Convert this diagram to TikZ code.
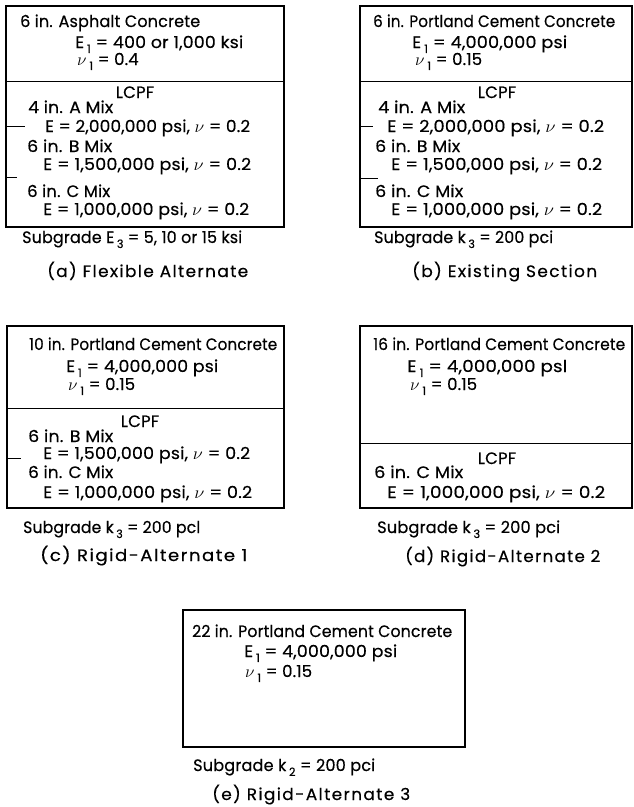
\documentclass[tikz,border=0pt]{standalone}
\usepackage{fontspec}
\usepackage{graphicx}
\setmainfont{Poppins}[LetterSpace=1,FakeBold=0.4]
\newfontfamily\capfont{Poppins}[LetterSpace=8,FakeBold=0.4]
\newcommand\sbs[1]{\,\raisebox{-0.55ex}{\fontsize{11.5}{13}\selectfont #1}}
\newcommand\nuch{$\nu$}
\newcommand\fw[2]{\resizebox{#1pt}{\height}{#2}}
\begin{document}
\begin{tikzpicture}[x=1pt,y=-1pt,
  txt/.style={anchor=base west,inner sep=0pt,font=\fontsize{16.5}{18}\selectfont},
  txtc/.style={anchor=base,inner sep=0pt,font=\fontsize{16.5}{18}\selectfont},
  captxt/.style={anchor=base west,inner sep=0pt,font=\capfont\fontsize{16.5}{18}\selectfont},
  boxline/.style={line width=1.3pt},
  divline/.style={line width=1pt}]
\useasboundingbox (0,0) rectangle (633,807);
% (a)
\draw[boxline] (6,6) rectangle (284,227);
\draw[divline] (6,81) -- (284,81);
\draw[divline] (6,126) -- (25,126);
\draw[divline] (6,177) -- (17,177);
\node[txt] (a1) at (20,27) {\fw{180}{6 in. Asphalt Concrete}};
\node[txt] (a2) at (75,48) {\fw{168}{E\sbs{1} = 400 or 1,000 ksi}};
\node[txt] (a3) at (77,65) {\nuch\sbs{1} = 0.4};
\node[txtc] (aL) at (135,98) {LCPF};
\node[txt] (a4) at (28,113) {\fw{85}{4 in. A Mix}};
\node[txt] (a5) at (45,132) {\fw{205}{E = 2,000,000 psi, \nuch{} = 0.2}};
\node[txt] (a6) at (27,152) {\fw{85}{6 in. B Mix}};
\node[txt] (a7) at (43,170) {\fw{208}{E = 1,500,000 psi, \nuch{} = 0.2}};
\node[txt] (a8) at (27,197) {\fw{83}{6 in. C Mix}};
\node[txt] (a9) at (43,215) {\fw{206}{E = 1,000,000 psi, \nuch{} = 0.2}};
\node[txt] (aS) at (22,243) {\fw{220}{Subgrade E\sbs{3} = 5, 10 or 15 ksi}};
\node[captxt] (aC) at (47,277) {\fw{201}{(a) Flexible Alternate}};
% (b)
\draw[boxline] (360,6) rectangle (632,227);
\draw[divline] (360,81) -- (632,81);
\draw[divline] (360,126) -- (373,126);
\draw[divline] (360,178) -- (378,178);
\node[txt] (b1) at (373,27) {\fw{242}{6 in. Portland Cement Concrete}};
\node[txt] (b2) at (412,48) {\fw{155}{E\sbs{1} = 4,000,000 psi}};
\node[txt] (b3) at (415,65) {\nuch\sbs{1} = 0.15};
\node[txtc] (bL) at (497,98) {LCPF};
\node[txt] (b4) at (378,113) {\fw{87}{4 in. A Mix}};
\node[txt] (b5) at (387,132) {\fw{217}{E = 2,000,000 psi, \nuch{} = 0.2}};
\node[txt] (b6) at (375,152) {\fw{85}{6 in. B Mix}};
\node[txt] (b7) at (391,170) {\fw{211}{E = 1,500,000 psi, \nuch{} = 0.2}};
\node[txt] (b8) at (375,197) {\fw{88}{6 in. C Mix}};
\node[txt] (b9) at (391,215) {\fw{211}{E = 1,000,000 psi, \nuch{} = 0.2}};
\node[txt] (bS) at (374,243) {\fw{179}{Subgrade k\sbs{3} = 200 pci}};
\node[captxt] (bC) at (412,277) {\fw{185}{(b) Existing Section}};
% (c)
\draw[boxline] (7,326) rectangle (284,508);
\draw[divline] (7,408) -- (284,408);
\draw[divline] (7,458) -- (21,458);
\node[txt] (c1) at (29,350) {\fw{248}{10 in. Portland Cement Concrete}};
\node[txt] (c2) at (66,372) {\fw{152}{E\sbs{1} = 4,000,000 psi}};
\node[txt] (c3) at (68,390) {\nuch\sbs{1} = 0.15};
\node[txtc] (cL) at (140,427) {LCPF};
\node[txt] (c4) at (28,442) {\fw{85}{6 in. B Mix}};
\node[txt] (c5) at (43,459) {\fw{207}{E = 1,500,000 psi, \nuch{} = 0.2}};
\node[txt] (c6) at (28,478) {\fw{85}{6 in. C Mix}};
\node[txt] (c7) at (43,498) {\fw{209}{E = 1,000,000 psi, \nuch{} = 0.2}};
\node[txt] (cS) at (23,533) {\fw{177}{Subgrade k\sbs{3} = 200 pcl}};
\node[captxt] (cC) at (40,561) {\fw{207}{(c) Rigid-Alternate 1}};
% (d)
\draw[boxline] (360,326) rectangle (632,508);
\draw[divline] (360,443) -- (632,443);
\node[txt] (d1) at (373,350) {\fw{252}{16 in. Portland Cement Concrete}};
\node[txt] (d2) at (407,372) {\fw{160}{E\sbs{1} = 4,000,000 psl}};
\node[txt] (d3) at (410,390) {\nuch\sbs{1} = 0.15};
\node[txtc] (dL) at (497,464) {LCPF};
\node[txt] (d4) at (374,478) {\fw{89}{6 in. C Mix}};
\node[txt] (d5) at (387,498) {\fw{218}{E = 1,000,000 psi, \nuch{} = 0.2}};
\node[txt] (dS) at (377,533) {\fw{183}{Subgrade k\sbs{3} = 200 pci}};
\node[captxt] (dC) at (405,562) {\fw{195}{(d) Rigid-Alternate 2}};
% (e)
\draw[boxline] (183,610) rectangle (465,747);
\node[txt] (e1) at (192,637) {\fw{260}{22 in. Portland Cement Concrete}};
\node[txt] (e2) at (244,657) {\fw{153}{E\sbs{1} = 4,000,000 psi}};
\node[txt] (e3) at (245,677) {\nuch\sbs{1} = 0.15};
\node[txt] (eS) at (193,771) {\fw{182}{Subgrade k\sbs{2} = 200 pci}};
\node[captxt] (eC) at (212,800) {\fw{198}{(e) Rigid-Alternate 3}};
\end{tikzpicture}
\end{document}
